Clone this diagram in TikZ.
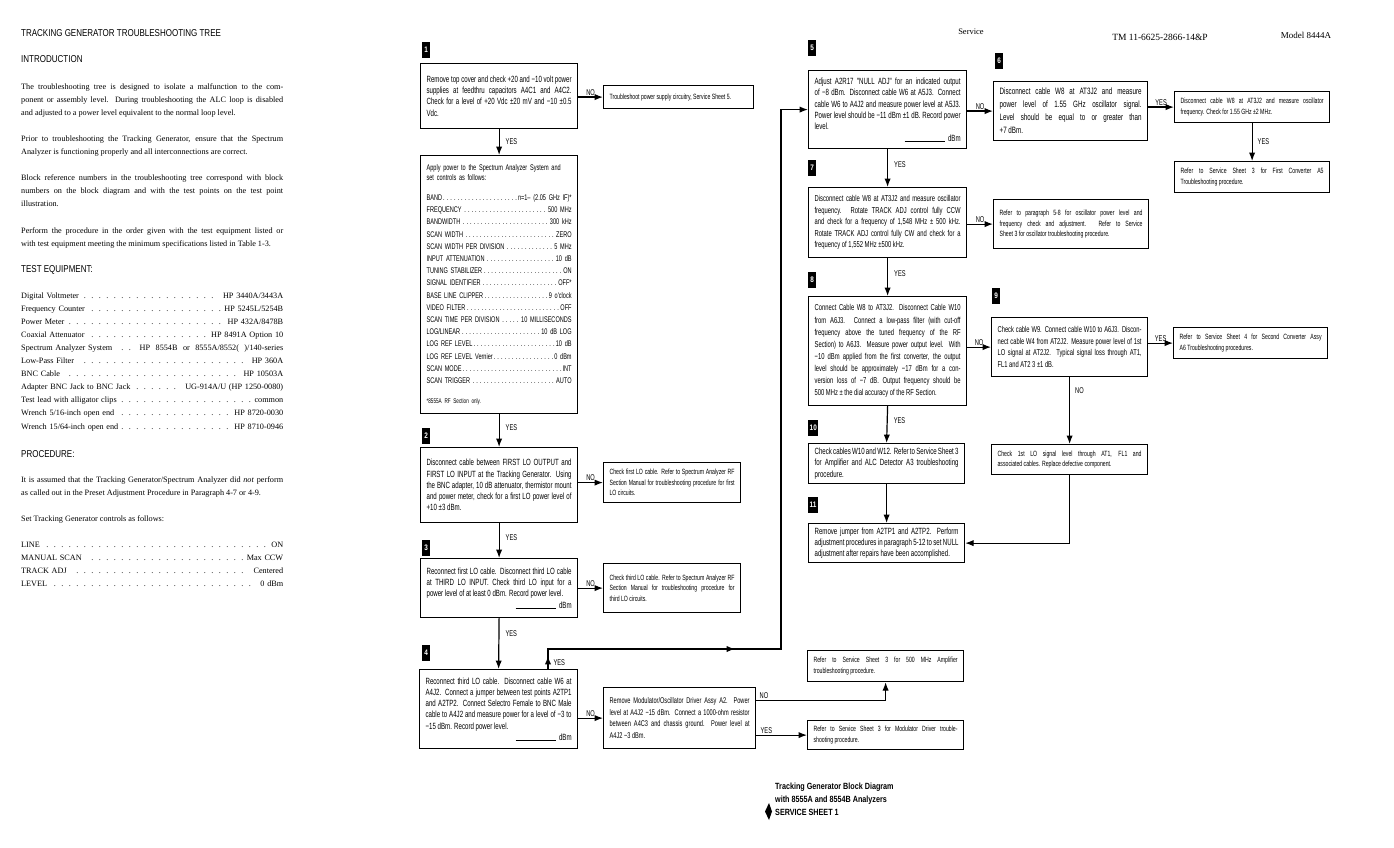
\documentclass[tikz,border=0pt]{standalone}
\usepackage{fontspec}
\setmainfont{Liberation Serif}
\newfontfamily\condfont[FakeStretch=0.8]{Liberation Sans}
\newfontfamily\narrowfont[FakeStretch=0.68]{Liberation Sans}
\usetikzlibrary{arrows.meta,calc,positioning,decorations.markings}

\newcommand{\dotlead}{\leaders\hbox to 7.5pt{\hss.\hss}\hfill}
\newcommand{\eqrow}[2]{\makebox[262pt]{#1\dotlead#2}}
\newcommand{\setrow}[2]{\makebox[\linewidth]{#1\dotfill#2}}
\newcommand{\dbmline}{\par\hspace*{0pt plus 1filll}\rule{40pt}{0.5pt}\ \ dBm}

\begin{document}
\begin{tikzpicture}[x=1pt,y=-1pt,>=Latex,
  box/.style={draw,line width=1.2pt,anchor=north west,inner xsep=6pt,inner ysep=2pt,align=justify,font=\narrowfont\fontsize{9}{11.3}\selectfont},
  sbox/.style={box,font=\narrowfont\fontsize{7.6}{10.5}\selectfont},
  tag/.style={fill=black,text=white,anchor=north west,inner sep=1.5pt,minimum width=8pt,minimum height=16pt,font=\condfont\bfseries\fontsize{8}{8}\selectfont},
  arr/.style={->,line width=1.2pt},
  lbl/.style={inner sep=1pt,font=\narrowfont\fontsize{8.4}{9}\selectfont},
  para/.style={anchor=base west,inner sep=0pt,text width=262pt,align=justify,font=\fontsize{8.2}{13}\selectfont},
  list/.style={anchor=base west,inner sep=0pt,text width=262pt,align=left,font=\fontsize{8.2}{13.1}\selectfont},
  head/.style={anchor=base west,inner sep=0pt,font=\condfont\fontsize{10}{11}\selectfont},
  foot/.style={anchor=base west,inner sep=0pt,font=\condfont\bfseries\fontsize{9}{10}\selectfont}]
\fill[white] (0,0) rectangle (1394,848);
\useasboundingbox (0,0) rectangle (1394,848);

\node[head] (title) at (21,37) {TRACKING GENERATOR TROUBLESHOOTING TREE};
\node[head] (intro) at (21,63) {INTRODUCTION};
\node[para] (p1) at (21,90) {The troubleshooting tree is designed to isolate a malfunction to the com-\linebreak ponent or assembly level. During troubleshooting the ALC loop is disabled\linebreak and adjusted to a power level equivalent to the normal loop level.};
\node[para] (p2) at (21,141.5) {Prior to troubleshooting the Tracking Generator, ensure that the Spectrum\linebreak Analyzer is functioning properly and all interconnections are correct.};
\node[para] (p3) at (21,180) {Block reference numbers in the troubleshooting tree correspond with block\linebreak numbers on the block diagram and with the test points on the test point\linebreak illustration.};
\node[para] (p4) at (21,233) {Perform the procedure in the order given with the test equipment listed or\linebreak with test equipment meeting the minimum specifications listed in Table 1-3.};
\node[head] (testeq) at (21,272) {TEST EQUIPMENT:};
\node[list] (equip) at (21,298) {\eqrow{Digital Voltmeter}{HP 3440A/3443A}\\
  \eqrow{Frequency Counter}{HP 5245L/5254B}\\
  \eqrow{Power Meter}{HP 432A/8478B}\\
  \eqrow{Coaxial Attenuator}{HP 8491A Option 10}\\
  \eqrow{Spectrum Analyzer System}{\ HP\ \ 8554B\ \ or\ \ 8555A/8552(\ \ )/140-series}\\
  \eqrow{Low-Pass Filter}{HP 360A}\\
  \eqrow{BNC Cable}{HP 10503A}\\
  \eqrow{Adapter BNC Jack to BNC Jack}{UG-914A/U (HP 1250-0080)}\\
  \eqrow{Test lead with alligator clips}{common}\\
  \eqrow{Wrench 5/16-inch open end}{HP 8720-0030}\\
  \eqrow{Wrench 15/64-inch open end}{HP 8710-0946}};
\node[head] (proc) at (21,457) {PROCEDURE:};
\node[para] (p5) at (21,482) {It is assumed that the Tracking Generator/Spectrum Analyzer did \emph{not} perform\linebreak as called out in the Preset Adjustment Procedure in Paragraph 4-7 or 4-9.};
\node[para] (p6) at (21,521) {Set Tracking Generator controls as follows:};
\node[list] (ctrl) at (21,547) {\eqrow{LINE}{ON}\\
  \eqrow{MANUAL SCAN}{Max CCW}\\
  \eqrow{TRACK ADJ}{Centered}\\
  \eqrow{LEVEL}{0 dBm}};

\node[tag] (t1) at (422,42) {1};
\node[box,text width=145pt,minimum height=65pt] (pwr) at (420,63) {Remove top cover and check +20 and −10 volt power\linebreak supplies at feedthru capacitors A4C1 and A4C2.\linebreak Check for a level of +20 Vdc ±20 mV and −10 ±0.5\linebreak Vdc.};
\node[sbox,text width=138pt,minimum height=23pt] (pwrno) at (603,85) {Troubleshoot power supply circuitry, Service Sheet 5.};
\node[box,text width=145pt,minimum height=258pt,align=left,font=\narrowfont\fontsize{8.2}{12.2}\selectfont] (setup) at (420,155) {Apply power to the Spectrum Analyzer System and\\[-2pt] set controls as follows:\\[8pt]
  \setrow{BAND}{n=1– (2.05 GHz IF)*}\\
  \setrow{FREQUENCY}{500 MHz}\\
  \setrow{BANDWIDTH}{300 kHz}\\
  \setrow{SCAN WIDTH}{ZERO}\\
  \setrow{SCAN WIDTH PER DIVISION}{5 MHz}\\
  \setrow{INPUT ATTENUATION}{10 dB}\\
  \setrow{TUNING STABILIZER}{ON}\\
  \setrow{SIGNAL IDENTIFIER}{OFF*}\\
  \setrow{BASE LINE CLIPPER}{9 o'clock}\\
  \setrow{VIDEO FILTER}{OFF}\\
  \setrow{SCAN TIME PER DIVISION}{10 MILLISECONDS}\\
  \setrow{LOG/LINEAR}{10 dB LOG}\\
  \setrow{LOG REF LEVEL}{10 dB}\\
  \setrow{LOG REF LEVEL Vernier}{0 dBm}\\
  \setrow{SCAN MODE}{INT}\\
  \setrow{SCAN TRIGGER}{AUTO}\\[8pt]
  {\fontsize{6.8}{7}\selectfont *8555A RF Section only.}};
\node[tag] (t2) at (422,428) {2};
\node[box,text width=145pt,minimum height=75pt] (lo1) at (420,447) {Disconnect cable between FIRST LO OUTPUT and\linebreak FIRST LO INPUT at the Tracking Generator. Using\linebreak the BNC adapter, 10 dB attenuator, thermistor mount\linebreak and power meter, check for a first LO power level of\linebreak +10 ±3 dBm.};
\node[sbox,text width=125pt,minimum height=40pt] (lo1no) at (603,462) {Check first LO cable. Refer to Spectrum Analyzer RF\linebreak Section Manual for troubleshooting procedure for first\linebreak LO circuits.};
\node[tag] (t3) at (422,540) {3};
\node[box,text width=145pt,minimum height=59pt] (lo3) at (420,558) {Reconnect first LO cable. Disconnect third LO cable\linebreak at THIRD LO INPUT. Check third LO input for a\linebreak power level of at least 0 dBm. Record power level.\dbmline};
\node[sbox,text width=125pt,minimum height=49pt] (lo3no) at (603,563) {Check third LO cable. Refer to Spectrum Analyzer RF\linebreak Section Manual for troubleshooting procedure for\linebreak third LO circuits.};
\node[tag] (t4) at (422,645) {4};
\node[box,text width=146pt,minimum height=79pt] (w6) at (419,669) {Reconnect third LO cable. Disconnect cable W6 at\linebreak A4J2. Connect a jumper between test points A2TP1\linebreak and A2TP2. Connect Selectro Female to BNC Male\linebreak cable to A4J2 and measure power for a level of −3 to\linebreak −15 dBm. Record power level.\dbmline};
\node[sbox,text width=140pt,minimum height=61pt,font=\narrowfont\fontsize{8.3}{11.5}\selectfont] (drv) at (603,687) {Remove Modulator/Oscillator Driver Assy A2. Power\linebreak level at A4J2 −15 dBm. Connect a 1000-ohm resistor\linebreak between A4C3 and chassis ground. Power level at\linebreak A4J2 −3 dBm.};
\node[sbox,text width=144pt,minimum height=31pt] (amp) at (807,650) {Refer to Service Sheet 3 for 500 MHz Amplifier\linebreak troubleshooting procedure.};
\node[sbox,text width=144pt,minimum height=29pt] (moddrv) at (807,720) {Refer to Service Sheet 3 for Modulator Driver trouble-\linebreak shooting procedure.};

\node[tag] (t5) at (808,40) {5};
\node[box,text width=146pt,minimum height=78pt] (null) at (808,70) {Adjust A2R17 "NULL ADJ" for an indicated output\linebreak of −8 dBm. Disconnect cable W6 at A5J3. Connect\linebreak cable W6 to A4J2 and measure power level at A5J3.\linebreak Power level should be −11 dBm ±1 dB. Record power\linebreak level.\dbmline};
\node[tag] (t6) at (995,53) {6};
\node[box,text width=142pt,minimum height=59pt,font=\narrowfont\fontsize{9.2}{13}\selectfont] (lvl) at (993,81) {Disconnect cable W8 at AT3J2 and measure\linebreak power level of 1.55 GHz oscillator signal.\linebreak Level should be equal to or greater than\linebreak +7 dBm.};
\node[sbox,text width=143pt,minimum height=31pt] (frq) at (1174,91) {Disconnect cable W8 at AT3J2 and measure oscillator\linebreak frequency. Check for 1.55 GHz ±2 MHz.};
\node[sbox,text width=143pt,minimum height=31pt] (conv1) at (1174,161) {Refer to Service Sheet 3 for First Converter A5\linebreak Troubleshooting procedure.};
\node[tag] (t7) at (808,160) {7};
\node[box,text width=146pt,minimum height=70pt,font=\narrowfont\fontsize{8.6}{11.5}\selectfont] (track) at (808,187) {Disconnect cable W8 at AT3J2 and measure oscillator\linebreak frequency. Rotate TRACK ADJ control fully CCW\linebreak and check for a frequency of 1,548 MHz ± 500 kHz.\linebreak Rotate TRACK ADJ control fully CW and check for a\linebreak frequency of 1,552 MHz ±500 kHz.};
\node[sbox,text width=143pt,minimum height=49pt] (trackno) at (993,199) {Refer to paragraph 5-8 for oscillator power level and\linebreak frequency check and adjustment. Refer to Service\linebreak Sheet 3 for oscillator troubleshooting procedure.};
\node[tag] (t8) at (808,272) {8};
\node[box,text width=146pt,minimum height=109pt,font=\narrowfont\fontsize{8.6}{12.1}\selectfont] (conv) at (808,296) {Connect Cable W8 to AT3J2. Disconnect Cable W10\linebreak from A6J3. Connect a low-pass filter (with cut-off\linebreak frequency above the tuned frequency of the RF\linebreak Section) to A6J3. Measure power output level. With\linebreak −10 dBm applied from the first converter, the output\linebreak level should be approximately −17 dBm for a con-\linebreak version loss of −7 dB. Output frequency should be\linebreak 500 MHz ± the dial accuracy of the RF Section.};
\node[tag] (t9) at (992,288) {9};
\node[box,text width=144pt,minimum height=59pt,font=\narrowfont\fontsize{8.5}{11.5}\selectfont] (w9) at (991,317) {Check cable W9. Connect cable W10 to A6J3. Discon-\linebreak nect cable W4 from AT2J2. Measure power level of 1st\linebreak LO signal at AT2J2. Typical signal loss through AT1,\linebreak FL1 and AT2 3 ±1 dB.};
\node[sbox,text width=142pt,minimum height=31pt] (conv2) at (1173,327) {Refer to Service Sheet 4 for Second Converter Assy\linebreak A6 Troubleshooting procedures.};
\node[sbox,text width=144pt,minimum height=30pt] (lochk) at (991,444) {Check 1st LO signal level through AT1, FL1 and\linebreak associated cables. Replace defective component.};
\node[tag] (t10) at (808,420) {10};
\node[box,text width=144pt,minimum height=40pt] (alc) at (808,443) {Check cables W10 and W12. Refer to Service Sheet 3\linebreak for Amplifier and ALC Detector A3 troubleshooting\linebreak procedure.};
\node[tag] (t11) at (808,497) {11};
\node[box,text width=144pt,minimum height=39pt] (jump) at (808,523) {Remove jumper from A2TP1 and A2TP2. Perform\linebreak adjustment procedures in paragraph 5-12 to set NULL\linebreak adjustment after repairs have been accomplished.};

\draw[arr] (pwr.east |- pwrno.west) -- node[lbl,above]{NO} (pwrno.west);
\draw[arr] (pwr.south) -- node[lbl,right=5pt]{YES} (setup.north);
\draw[arr] (setup.south) -- node[lbl,right=5pt,pos=0.4]{YES} (lo1.north);
\draw[arr] (lo1.east |- lo1no.west) -- node[lbl,above]{NO} (lo1no.west);
\draw[arr] (lo1.south) -- node[lbl,right=5pt,pos=0.4]{YES} (lo3.north);
\draw[arr] (lo3.east |- lo3no.west) -- node[lbl,above]{NO} (lo3no.west);
\draw[arr] (lo3.south) -- node[lbl,right=5pt,pos=0.3]{YES} (w6.north);
\draw[arr] (w6.east |- drv.west) -- node[lbl,above]{NO} (drv.west);
\draw[arr] ([yshift=18pt]drv.east) -| node[lbl,above,pos=0.03]{NO} (amp.south);
\draw[arr] (drv.east |- moddrv.west) -- node[lbl,above,pos=0.2]{YES} (moddrv.west);
\coordinate (up4) at (548,649);
\coordinate (turn4) at (781,649);
\draw[arr,postaction={decorate},decoration={markings,mark=at position 13pt with {\arrow{Latex}},mark=at position 207pt with {\arrow{Latex}}}]
  (w6.north -| up4) -- node[lbl,right=4pt,pos=0.3]{YES} (up4) -- (turn4) |- (null.west);
\draw[arr] (null.east |- lvl.west) -- node[lbl,above]{NO} (lvl.west);
\draw[arr] (lvl.east |- frq.west) -- node[lbl,above]{YES} (frq.west);
\draw[arr] (frq.south) -- node[lbl,right=4pt]{YES} (conv1.north);
\draw[arr] (null.south) -- node[lbl,right=5pt,pos=0.4]{YES} (track.north);
\draw[arr] (track.east |- trackno.west) -- node[lbl,above]{NO} (trackno.west);
\draw[arr] (track.south) -- node[lbl,right=5pt,pos=0.4]{YES} (conv.north);
\draw[arr] (conv.east |- w9.west) -- node[lbl,above]{NO} (w9.west);
\draw[arr] (w9.east |- conv2.west) -- node[lbl,above]{YES} (conv2.west);
\draw[arr] (w9.south) -- node[lbl,right=4pt,pos=0.2]{NO} (lochk.north);
\draw[arr] (conv.south) -- node[lbl,right=5pt,pos=0.4]{YES} (alc.north);
\draw[arr] (alc.south) -- (jump.north);
\draw[arr] (lochk.south) |- (jump.east);

\node[font=\fontsize{8.5}{9}\selectfont] (svc) at (971,32) {Service};
\node[font=\fontsize{9.5}{10}\selectfont] (tm) at (1160,37) {TM 11-6625-2866-14\&P};
\node[font=\fontsize{9}{10}\selectfont] (model) at (1306,35) {Model 8444A};
\node[foot] (ft1) at (775,789) {Tracking Generator Block Diagram};
\node[foot] (ft2) at (775,802) {with 8555A and 8554B Analyzers};
\node[foot] (ft3) at (775,815) {SERVICE SHEET 1};
\fill (765,811.5) -- (769,803) -- (772,811.5) -- (769,820) -- cycle;
\end{tikzpicture}
\end{document}
